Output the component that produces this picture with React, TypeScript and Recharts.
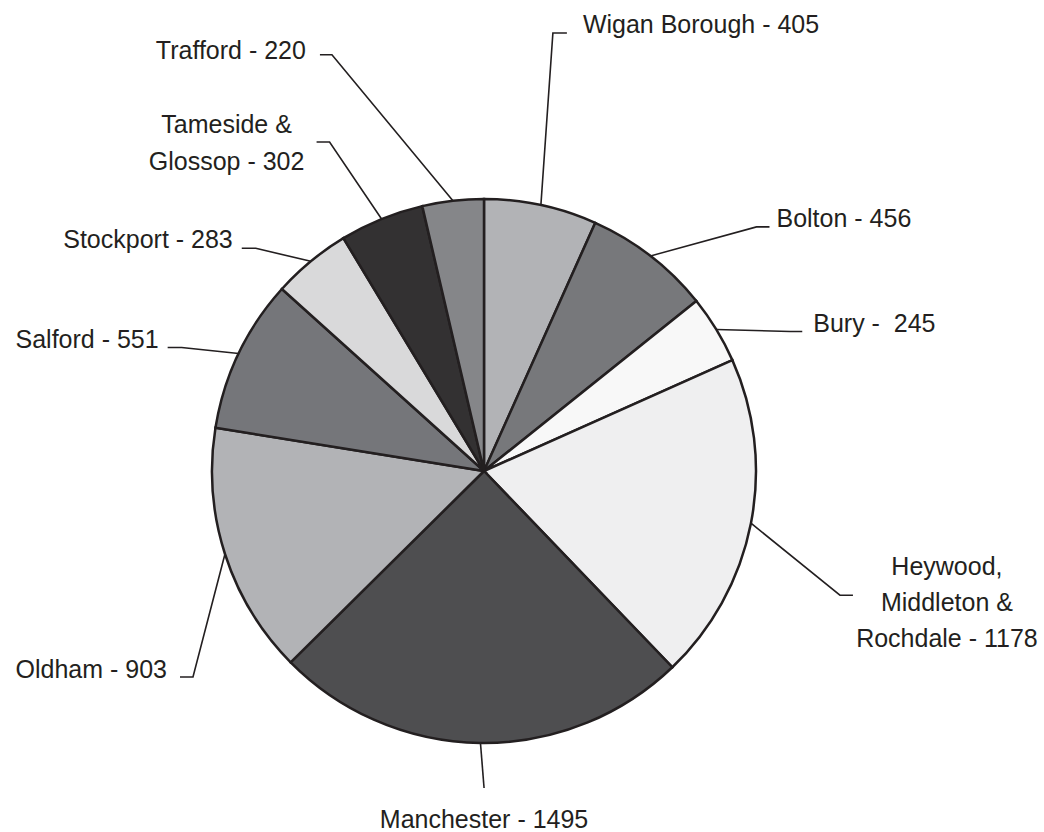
import React from "react";
import { PieChart, Pie, Cell } from "recharts";

// slices, clockwise from 12 o'clock
const labelNames = [
  "Wigan Borough - ",
  "Bolton - ",
  "Bury -  ",
  "Heywood,\nMiddleton &\nRochdale - ",
  "Manchester - ",
  "Oldham - ",
  "Salford - ",
  "Stockport - ",
  "Tameside &\nGlossop - ",
  "Trafford - ",
];
const values = [405, 456, 245, 1178, 1495, 903, 551, 283, 302, 220];
const fills = [
  "#b2b3b6", "#77787b", "#f8f8f8", "#efeff0", "#4e4e50",
  "#b2b3b6", "#75767a", "#d9d9da", "#333132", "#858689",
];

// leader line placement: elbow offset from the slice edge, horizontal arm, text offset
const labelLayout = [
  { elbow: [12, -172], arm: 14, anchor: "start", textDx: 16, textDy: 0, lh: 36 },
  { elbow: [106, -29], arm: 13, anchor: "start", textDx: 7, textDy: 0, lh: 36 },
  { elbow: [74, 2], arm: 12, anchor: "start", textDx: 11, textDy: 1, lh: 36 },
  { elbow: [89, 72], arm: 13, anchor: "middle", textDx: 94, textDy: -20, lh: 36 },
  { elbow: [3.6, 45], arm: 0, anchor: "middle", textDx: 0, textDy: 40, lh: 36 },
  { elbow: [-32, 123], arm: -13, anchor: "end", textDx: -13, textDy: 1, lh: 36 },
  { elbow: [-57, -6], arm: -14, anchor: "end", textDx: -9, textDy: 0, lh: 36 },
  { elbow: [-55, -13], arm: -14, anchor: "end", textDx: -9, textDy: 0, lh: 36 },
  { elbow: [-52, -77], arm: -13, anchor: "middle", textDx: -90, textDy: -9, lh: 37 },
  { elbow: [-121, -146], arm: -12, anchor: "end", textDx: -14, textDy: 4, lh: 36 },
];

const data = labelNames.map((label, i) => ({ label, value: values[i] }));

const RADIAN = Math.PI / 180;
const INK = "#231f20";

function renderLabel(props: any) {
  const { cx, cy, midAngle, outerRadius, index, value } = props;
  const lay = labelLayout[index];
  const ex = cx + outerRadius * Math.cos(-midAngle * RADIAN);
  const ey = cy + outerRadius * Math.sin(-midAngle * RADIAN);
  const bx = ex + lay.elbow[0];
  const by = ey + lay.elbow[1];
  const ax = bx + lay.arm;
  const tx = ax + lay.textDx;
  const ty = by + lay.textDy;
  const lines = (labelNames[index] + value).split("\n");
  return (
    <g key={`lbl-${index}`}>
      <polyline
        points={`${ex},${ey} ${bx},${by} ${ax},${by}`}
        fill="none"
        stroke={INK}
        strokeWidth={1.6}
      />
      <text
        x={tx}
        y={ty}
        textAnchor={lay.anchor}
        fontSize={25}
        fontFamily="'Liberation Sans', Arial, sans-serif"
        fill={INK}
        style={{ whiteSpace: "pre" }}
      >
        {lines.map((line, i) => (
          <tspan key={i} x={tx} dy={i === 0 ? 0 : lay.lh}>
            {line}
          </tspan>
        ))}
      </text>
    </g>
  );
}

export default function App() {
  return (
    <div style={{ position: "absolute", left: 0, top: 0, background: "#fff" }}>
      <PieChart width={1044} height={832} margin={{ top: 0, right: 0, bottom: 0, left: 0 }}>
        <Pie
          data={data}
          dataKey="value"
          nameKey="label"
          cx={484}
          cy={471}
          outerRadius={272}
          startAngle={90}
          endAngle={-270}
          stroke={INK}
          strokeWidth={2.5}
          label={renderLabel}
          labelLine={false}
          isAnimationActive={false}
        >
          {data.map((d, i) => (
            <Cell key={d.label} fill={fills[i]} />
          ))}
        </Pie>
      </PieChart>
    </div>
  );
}
